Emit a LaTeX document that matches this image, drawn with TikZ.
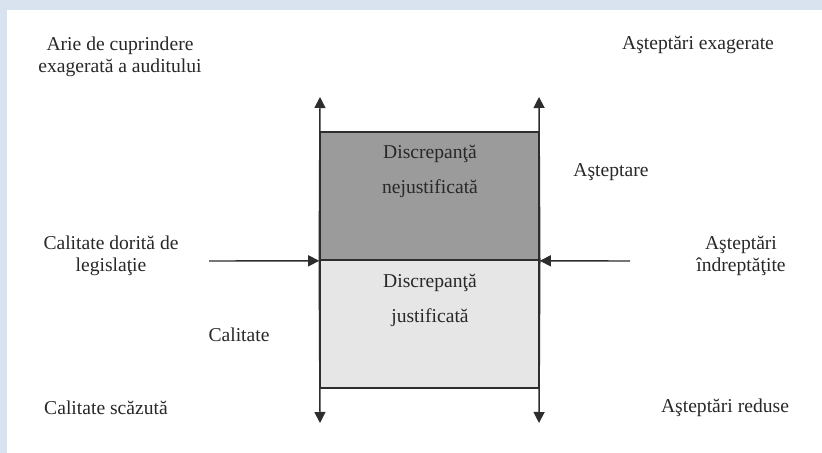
\documentclass[tikz,border=0pt]{standalone}
\usepackage{fontspec}
\setmainfont{Liberation Serif}
\usetikzlibrary{arrows.meta,positioning}
\definecolor{DGframe}{RGB}{217,227,240}
\definecolor{DGdark}{RGB}{155,155,155}
\definecolor{DGlight}{RGB}{230,230,230}
\definecolor{DGline}{RGB}{45,45,45}
\definecolor{DGtext}{RGB}{40,40,40}
\tikzset{
  lbl/.style={text=DGtext,align=center,inner sep=0pt,
              font=\fontsize{9.8}{11}\selectfont},
  boxlbl/.style={lbl,font=\fontsize{9.8}{17.5}\selectfont},
  zone/.style={draw=DGline,line width=0.8pt,minimum width=109.5pt,
               minimum height=64pt,inner sep=0pt},
  axis/.style={-{Triangle[length=5.5pt,width=5.5pt]},line width=0.7pt,draw=DGline},
}
\begin{document}
\begin{tikzpicture}[x=0.5pt,y=-0.5pt]
    \fill[DGframe] (0,0) rectangle (822,453);
    \fill[white] (7,10) rectangle (822,453);
    \useasboundingbox (0,0) rectangle (822,453);
    % the two zones
    \node[zone,fill=DGdark] (unjust) at (429.5,196) {};
    \node[zone,fill=DGlight] (just) at (429.5,324) {};
    \node[boxlbl] (unjusttxt) at (430,171) {Discrepanţă\\nejustificată};
    \node[boxlbl] (justtxt) at (430,300) {Discrepanţă\\justificată};
    % arrow ends
    \coordinate (lefttop) at (320,97);
    \coordinate (leftbot) at (320,423);
    \coordinate (righttop) at (539,97);
    \coordinate (rightbot) at (539,423);
    \coordinate (leftin) at (209,261);
    \coordinate (rightin) at (630,261);
    \draw[axis] (unjust.south west) -- (lefttop);
    \draw[axis] (unjust.south west) -- (leftbot);
    \draw[axis] (unjust.south east) -- (righttop);
    \draw[axis] (unjust.south east) -- (rightbot);
    \draw[axis] (leftin) -- (unjust.south west);
    \draw[axis] (rightin) -- (unjust.south east);
    % labels
    \node[lbl] (scope) at (120,57) {Arie de cuprindere\\exagerată a auditului};
    \node[lbl] (exag) at (698,45) {Aşteptări exagerate};
    \node[lbl] (expect) at (611,172) {Aşteptare};
    \node[lbl] (legal) at (111,256) {Calitate dorită de\\legislaţie};
    \node[lbl] (fair) at (741,256) {Aşteptări\\îndreptăţite};
    \node[lbl] (quality) at (239,335) {Calitate};
    \node[lbl] (lowq) at (106,408) {Calitate scăzută};
    \node[lbl] (lowexp) at (725,408) {Aşteptări reduse};
\end{tikzpicture}
\end{document}
